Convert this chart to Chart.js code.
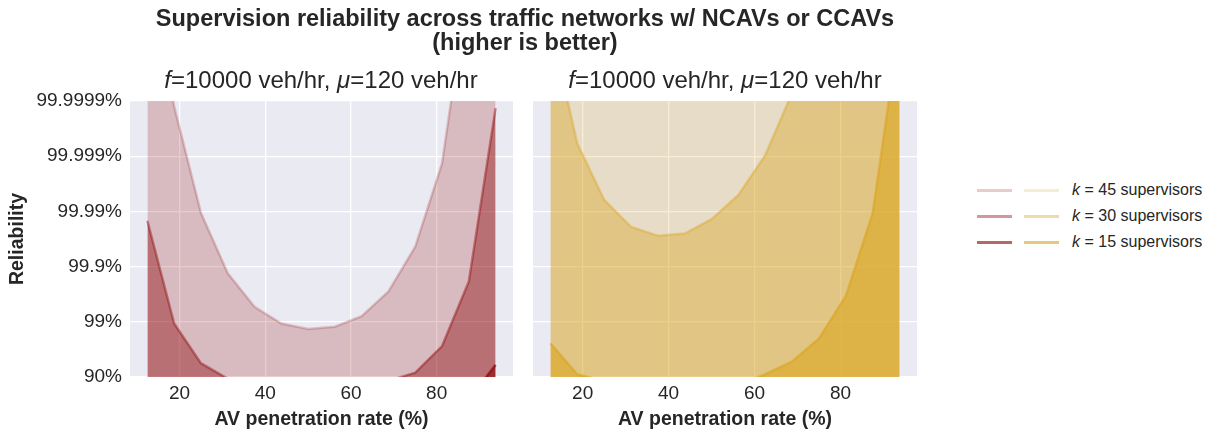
<!DOCTYPE html>
<html>
<head>
<meta charset="utf-8">
<script src="https://cdn.jsdelivr.net/npm/chart.js@4.4.0/dist/chart.umd.min.js"></script>
<style>
  body { margin: 0; background: #fff; font-family: "Liberation Sans", Arial, sans-serif; color: #262626; }
  #wrap { position: relative; width: 1212px; height: 434px; overflow: hidden; }
  canvas { position: absolute; top: 0; }
  .txt { position: absolute; white-space: nowrap; pointer-events: none; }
  .main { left: 0; width: 1050px; text-align: center; font-weight: bold; font-size: 23.5px; line-height: 24px; }
  .sub { width: 400px; text-align: center; font-size: 24px; line-height: 28px; top: 66px; }
  .leg-line { position: absolute; height: 3px; }
  .leg-text { position: absolute; left: 1072px; font-size: 16px; line-height: 18px; }
</style>
</head>
<body>
<div id="wrap">
  <canvas id="ncav" width="520" height="434" style="left:0"></canvas>
  <canvas id="ccav" width="400" height="434" style="left:520px"></canvas>

  <div class="txt main" style="top:6px">Supervision reliability across traffic networks w/ NCAVs or CCAVs<br>(higher is better)</div>
  <div class="txt sub" style="left:121px"><i>f</i>=10000 veh/hr, <i>μ</i>=120 veh/hr</div>
  <div class="txt sub" style="left:525px"><i>f</i>=10000 veh/hr, <i>μ</i>=120 veh/hr</div>
  <div id="legend"></div>
</div>
<script>
// AV penetration rate (%)
const penetration = [12.5, 18.75, 25, 31.25, 37.5, 43.75, 50, 56.25, 62.5, 68.75, 75, 81.25, 87.5, 93.75];

// reliability as number of nines: 1 = 90%, 2 = 99%, ... 6 = 99.9999%
// null = below the axis, can't be read
const ncavK45 = [8.5, 5.9, 3.97, 2.88, 2.27, 1.97, 1.87, 1.91, 2.10, 2.55, 3.36, 4.87, 8.2, 10];
const ncavK30 = [3.83, 1.97, 1.25, 0.97, null, null, null, null, null, 0.93, 1.08, 1.56, 2.73, 5.87];
const ncavK15 = [null, null, null, null, null, null, null, null, null, null, null, null, 0.6, 1.22];

const ccavK45 = [9, 10, 11, 11.5, 12, 12, 12, 12, 11.5, 11, 10.5, 10, 9.5, 9];
const ccavK30 = [7.37, 5.23, 4.21, 3.72, 3.56, 3.60, 3.86, 4.30, 5.02, 6.15, 7.5, 9, 10.5, 12];
const ccavK15 = [1.61, 1.05, 0.92, null, null, null, null, 0.85, 1.05, 1.28, 1.70, 2.47, 3.97, 7.35];

const supervisors = [45, 30, 15];
const alphas = [0.2, 0.4, 0.6];
const yTickValues = [1, 2, 3, 4, 5, 6];
const yTickLabels = ['90%', '99%', '99.9%', '99.99%', '99.999%', '99.9999%'];
const xTicks = [20, 40, 60, 80];

const FONT = '"Liberation Sans", Arial, sans-serif';
const INK = '#262626';
const red = a => `rgba(139,0,0,${a})`;
const gold = a => `rgba(218,165,32,${a})`;

const plotBg = {
  id: 'plotBg',
  beforeDraw(chart) {
    const a = chart.chartArea;
    const ctx = chart.ctx;
    ctx.save();
    ctx.fillStyle = '#eaeaf2';
    ctx.fillRect(a.left, a.top, a.right - a.left, a.bottom - a.top);
    ctx.restore();
  }
};

function makeChart(id, series, color, yWidth, padRight, showY) {
  const datasets = series.map((s, i) => ({
    label: 'k = ' + supervisors[i],
    data: penetration.map((x, j) => ({ x: x, y: s[j] })),
    borderColor: color(alphas[i]),
    backgroundColor: color(alphas[i]),
    borderWidth: 2.5,
    pointRadius: 0,
    fill: 'start',
    tension: 0,
    order: i
  }));
  return new Chart(document.getElementById(id), {
    type: 'line',
    data: { datasets: datasets },
    options: {
      responsive: false,
      animation: false,
      devicePixelRatio: 1,
      layout: { padding: { top: 101, right: padRight, left: 0, bottom: 0 } },
      plugins: { legend: { display: false }, tooltip: { enabled: false } },
      scales: {
        x: {
          type: 'linear',
          min: 8.4375,
          max: 97.8125,
          afterBuildTicks: s => { s.ticks = xTicks.map(v => ({ value: v })); },
          afterFit: s => { s.height = 57; },
          grid: { color: '#ffffff', lineWidth: 1.3, drawTicks: false },
          border: { display: false },
          ticks: { font: { size: 19, family: FONT }, color: INK, padding: 5, maxRotation: 0 },
          title: {
            display: true, text: 'AV penetration rate (%)', color: INK,
            font: { size: 19.5, weight: 'bold', family: FONT }, padding: { top: 0, bottom: 3 }
          }
        },
        y: {
          min: 1,
          max: 6,
          afterBuildTicks: s => { s.ticks = yTickValues.map(v => ({ value: v })); },
          afterFit: s => { s.width = yWidth; },
          grid: { color: '#ffffff', lineWidth: 1.3, drawTicks: false },
          border: { display: false },
          ticks: {
            display: showY, font: { size: 19, family: FONT }, color: INK, padding: 8,
            callback: v => yTickLabels[yTickValues.indexOf(v)]
          },
          title: {
            display: showY, text: 'Reliability', color: INK,
            font: { size: 19.5, weight: 'bold', family: FONT }, padding: { top: 6, bottom: 0 }
          }
        }
      }
    },
    plugins: [plotBg]
  });
}

makeChart('ncav', [ncavK45, ncavK30, ncavK15], red, 130, 7, true);
makeChart('ccav', [ccavK45, ccavK30, ccavK15], gold, 13, 3, false);

// legend, built by hand: two coloured lines per row
const legend = document.getElementById('legend');
const rowY = [190, 216, 242];
supervisors.forEach((k, i) => {
  legend.insertAdjacentHTML('beforeend',
    `<div class="leg-line" style="left:977px;width:35px;top:${rowY[i] - 1.5}px;background:${red(alphas[i])}"></div>` +
    `<div class="leg-line" style="left:1024px;width:35px;top:${rowY[i] - 1.5}px;background:${gold(alphas[i])}"></div>` +
    `<div class="txt leg-text" style="top:${rowY[i] - 9}px"><i>k</i> = ${k} supervisors</div>`);
});
</script>
</body>
</html>
